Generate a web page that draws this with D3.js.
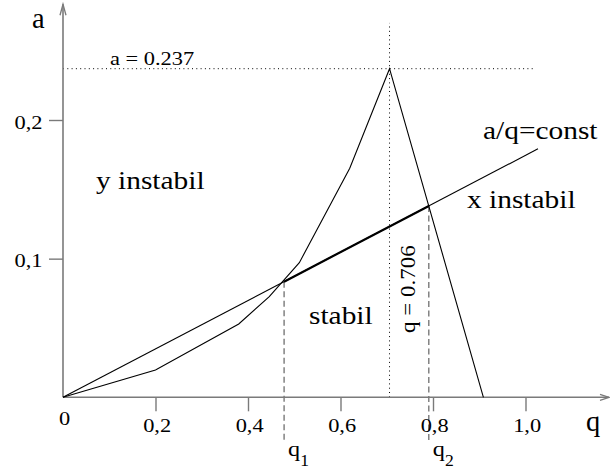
<!DOCTYPE html>
<html>
<head>
<meta charset="utf-8">
<script src="https://cdn.jsdelivr.net/npm/d3@7"></script>
<style>
  html, body { margin: 0; padding: 0; background: #fff; }
  svg { display: block; }
  text { font-family: "Liberation Serif", "Times New Roman", serif; fill: #000; }
</style>
</head>
<body>
<svg id="chart" width="610" height="472"></svg>
<script>
// Stability diagram: critical amplitude a over the parameter q
const qCurve = [0, 0.2, 0.38, 0.446, 0.511, 0.62, 0.706, 0.909];
const aCurve = [0, 0.0197, 0.0529, 0.0726, 0.0971, 0.1652, 0.237, 0];

const qPeak = 0.706;
const aPeak = 0.237;

// ratio of the straight line a/q = const
const ratioConst = 0.1745;
const ratioLineEnd = 1.027;

// crossings of the straight line with the curve
const qCross = [0.478, 0.791];
const crossSubs = ["1", "2"];

const xTickValues = [0, 0.2, 0.4, 0.6, 0.8, 1.0];
const xTickLabels = ["0", "0,2", "0,4", "0,6", "0,8", "1,0"];
const yTickValues = [0.1, 0.2];
const yTickLabels = ["0,1", "0,2"];

const svg = d3.select("#chart");

const x = d3.scaleLinear().domain([0, 1]).range([63, 525.5]);
const y = d3.scaleLinear().domain([0, 0.2]).range([397.3, 120]);

const axisColor = "#7a7a7a";
const stretch = 1.15;

// text helper: serif glyphs drawn a little wider than normal
function label(px, py, str, size, opts = {}) {
  const g = svg.append("g")
    .attr("transform", `translate(${px},${py}) rotate(${opts.rotate || 0}) scale(${opts.sx || stretch},1)`);
  const t = g.append("text")
    .attr("font-size", size)
    .attr("text-anchor", opts.anchor || "start")
    .text(str);
  if (opts.sub) {
    t.append("tspan").attr("font-size", opts.subSize).attr("dy", opts.subDy).text(opts.sub);
  }
  return g;
}

// reference lines through the peak
svg.append("line")
  .attr("x1", x(0)).attr("x2", x(1.02))
  .attr("y1", y(aPeak)).attr("y2", y(aPeak))
  .attr("stroke", "#000").attr("stroke-width", 1)
  .attr("stroke-dasharray", "1,3.3");
svg.append("line")
  .attr("x1", x(qPeak)).attr("x2", x(qPeak))
  .attr("y1", y(0)).attr("y2", y(0.27))
  .attr("stroke", "#000").attr("stroke-width", 1)
  .attr("stroke-dasharray", "1,3.3");

// dashed drops at the crossings
qCross.forEach(q => {
  svg.append("line")
    .attr("x1", x(q)).attr("x2", x(q))
    .attr("y1", y(ratioConst * q)).attr("y2", 443)
    .attr("stroke", "#555").attr("stroke-width", 1.1)
    .attr("stroke-dasharray", "6,3.5");
});

// axes
const xAxis = d3.axisBottom(x).tickValues(xTickValues).tickSize(14)
  .tickFormat((d, i) => xTickLabels[i]);
const gx = svg.append("g").attr("transform", `translate(0,${y(0)})`).call(xAxis);
gx.select(".domain").remove();
gx.selectAll(".tick line").attr("stroke", axisColor).attr("stroke-width", 1.4)
  .filter(d => d === 0).remove();
gx.selectAll(".tick text")
  .attr("font-size", 19.5).attr("font-family", "Liberation Serif, serif")
  .attr("fill", "#000")
  .attr("dy", 0)
  .attr("y", d => d === 0 ? 28 : 35)
  .attr("x", 1)
  .attr("transform", `scale(${stretch},1)`);

const yAxis = d3.axisLeft(y).tickValues(yTickValues).tickSize(14)
  .tickFormat((d, i) => yTickLabels[i]);
const gy = svg.append("g").attr("transform", `translate(${x(0)},0)`).call(yAxis);
gy.select(".domain").remove();
gy.selectAll(".tick line").attr("stroke", axisColor).attr("stroke-width", 1.4);
gy.selectAll(".tick text")
  .attr("font-size", 19.5).attr("font-family", "Liberation Serif, serif")
  .attr("fill", "#000")
  .attr("dy", 0).attr("y", 8)
  .attr("x", -20.5 / stretch)
  .attr("transform", `scale(${stretch},1)`);

// axis lines with open arrow heads
const x0 = x(0), y0 = y(0);
const xEnd = x(1.1805), yEnd = y(0.2835);
svg.append("line").attr("x1", x0).attr("x2", xEnd).attr("y1", y0).attr("y2", y0)
  .attr("stroke", axisColor).attr("stroke-width", 1.6);
svg.append("line").attr("x1", x0).attr("x2", x0).attr("y1", y0).attr("y2", yEnd)
  .attr("stroke", axisColor).attr("stroke-width", 1.6);
svg.append("path")
  .attr("d", `M${xEnd - 9},${y0 - 3}L${xEnd},${y0}L${xEnd - 9},${y0 + 3}`)
  .attr("fill", "none").attr("stroke", axisColor).attr("stroke-width", 1.3);
svg.append("path")
  .attr("d", `M${x0 - 3},${yEnd + 11}L${x0},${yEnd}L${x0 + 3},${yEnd + 11}`)
  .attr("fill", "none").attr("stroke", axisColor).attr("stroke-width", 1.3);

// stability boundary
const line = d3.line().x(d => x(d[0])).y(d => y(d[1]));
svg.append("path")
  .datum(qCurve.map((q, i) => [q, aCurve[i]]))
  .attr("d", line)
  .attr("fill", "none").attr("stroke", "#000").attr("stroke-width", 1.1);

// straight line a/q = const
svg.append("path")
  .datum([[0, 0], [ratioLineEnd, ratioConst * ratioLineEnd]])
  .attr("d", line)
  .attr("fill", "none").attr("stroke", "#000").attr("stroke-width", 1.1);

// stable stretch between the crossings
svg.append("path")
  .datum(qCross.map(q => [q, ratioConst * q]))
  .attr("d", line)
  .attr("fill", "none").attr("stroke", "#000").attr("stroke-width", 2.2);

// labels
label(32, 28, "a", 30, { sx: 0.95 });
label(586, 431, "q", 30, { sx: 0.95 });
label(110, 65, "a = 0.237", 19.5);
label(483, 139, "a/q=const", 24.5, { sx: 1.2 });
label(96, 189, "y instabil", 24.5, { sx: 1.2 });
label(467, 208, "x instabil", 24.5, { sx: 1.2 });
label(309, 324, "stabil", 24.5, { sx: 1.2 });
label(x(qPeak) + 25.5, y(0.0464), "q = 0.706", 20, { rotate: -90 });

qCross.forEach((q, i) => {
  label(x(q) + 4, 456, "q", 22, {
    sx: 1.1, sub: crossSubs[i], subSize: 16, subDy: 10
  });
});
</script>
</body>
</html>
